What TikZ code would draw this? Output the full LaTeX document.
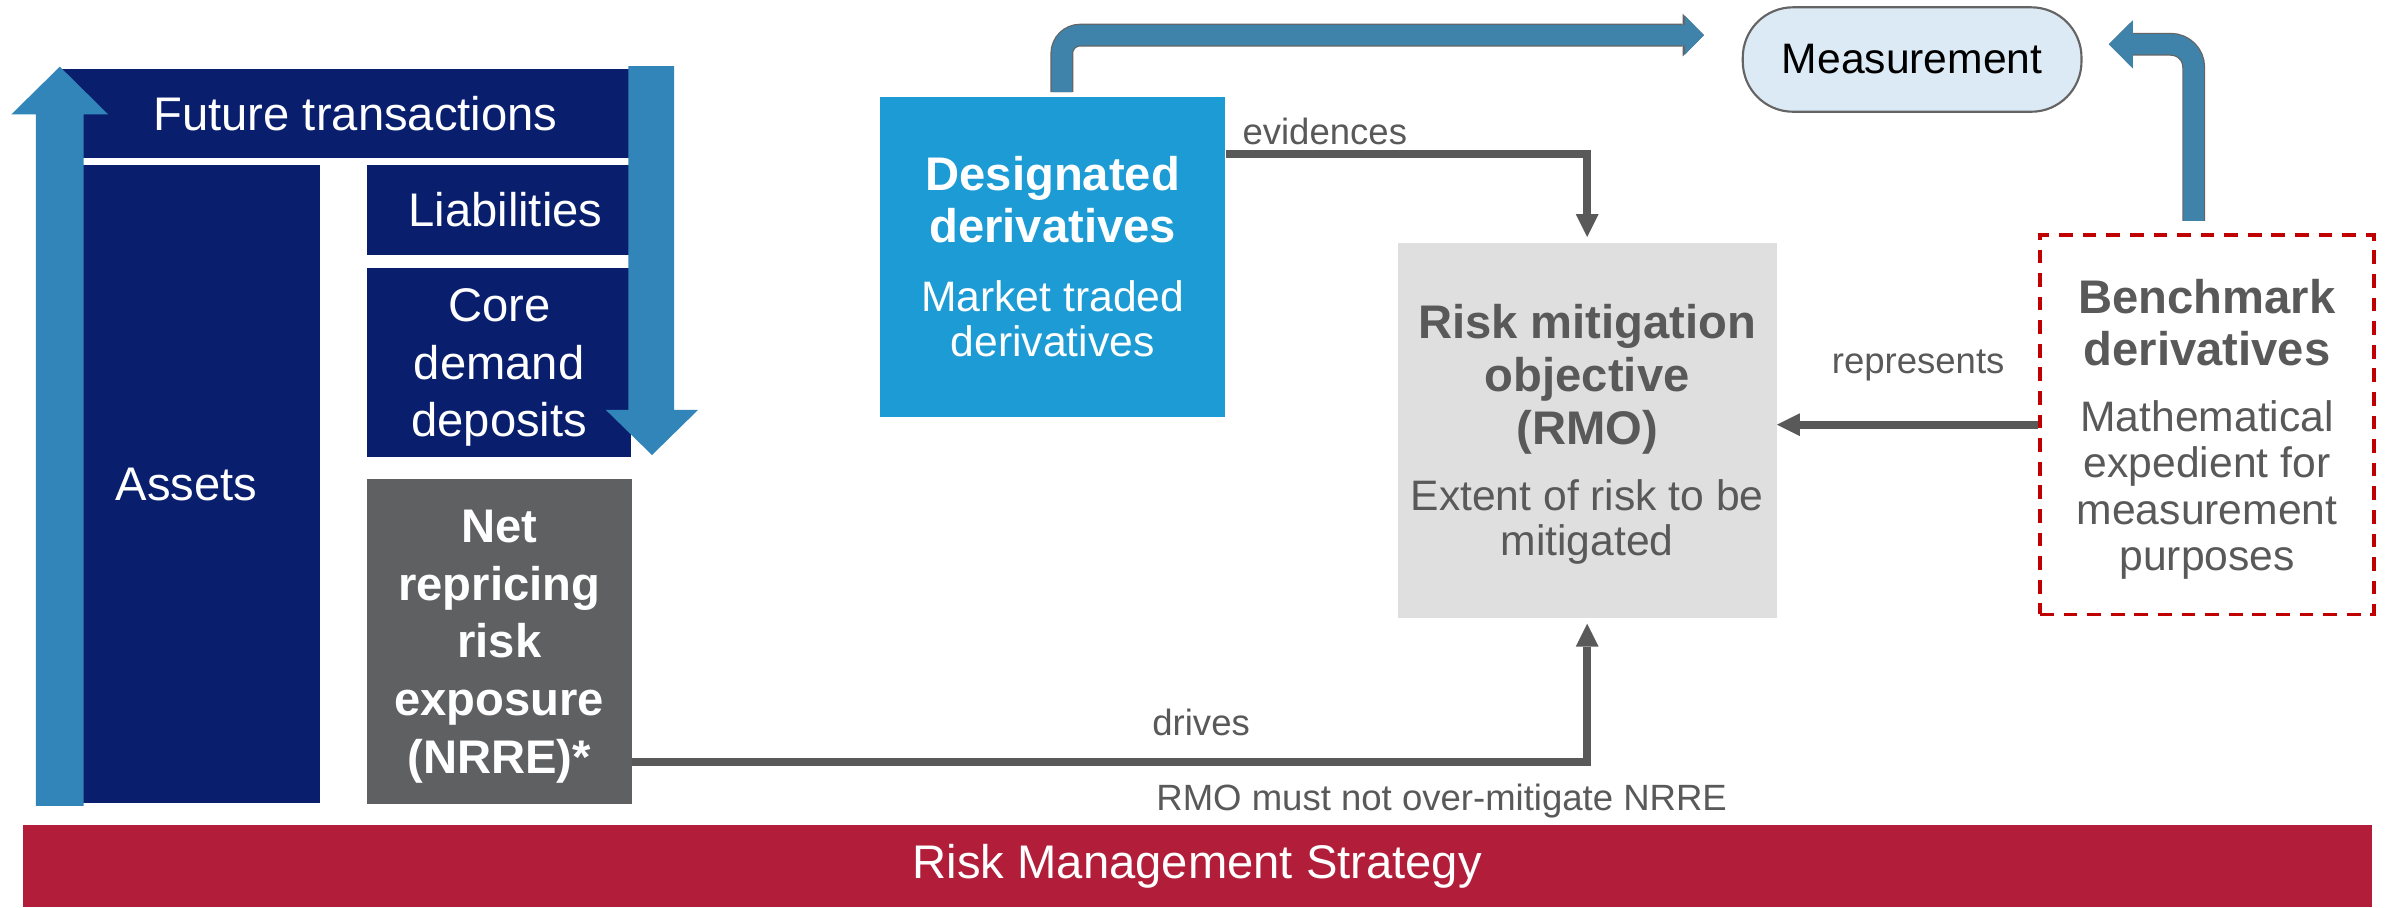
\documentclass[tikz,border=0pt]{standalone}
\usepackage{fontspec}
\setmainfont{Liberation Sans}
\usetikzlibrary{arrows.meta}

\definecolor{navy}{RGB}{9,31,110}
\definecolor{ablue}{RGB}{50,133,185}
\definecolor{dblue}{RGB}{29,155,213}
\definecolor{mblue}{RGB}{64,131,170}
\definecolor{mline}{RGB}{100,100,100}
\definecolor{nrreg}{RGB}{95,96,98}
\definecolor{rmog}{RGB}{223,223,223}
\definecolor{txtg}{RGB}{89,89,89}
\definecolor{dred}{RGB}{192,0,0}
\definecolor{rmsred}{RGB}{178,30,58}
\definecolor{measfill}{RGB}{220,234,245}

\newcommand\bigtxt{\fontsize{31}{37.8}\selectfont}
\newcommand\subtxt{\fontsize{28}{30}\selectfont\mdseries}

\begin{document}
\begin{tikzpicture}[x=1pt, y=-1pt]
    \tikzset{
        nbox/.style={rectangle, fill=navy, text=white, inner sep=0pt, align=center, font=\bigtxt},
        tbox/.style={rectangle, inner sep=0pt, align=center, font=\fontsize{31}{34}\selectfont},
        garrow/.style={draw=txtg, line width=5pt, -{Triangle[length=15pt, width=15pt, line width=0pt]}},
        marrow/.style={draw=mblue, line width=13.4pt,
            preaction={draw=mline, line width=15pt, -{Triangle[length=14pt, width=28pt, line width=0pt]}},
            -{Triangle[length=12.5pt, width=25.6pt, line width=0pt]}},
        lbl/.style={inner sep=0pt, text=txtg, font=\fontsize{24}{28}\selectfont}
    }
    \fill[white] (0,0) rectangle (1568,596);
    \useasboundingbox (0,0) rectangle (1568,596);

    % Баланс: сделки, активы, пассивы
    \node[nbox, minimum width=389, minimum height=58.7] (fut)    at (233.5, 74.65) {Future transactions};
    \node[nbox, minimum width=175, minimum height=419.4] (assets) at (122.5, 318.1) {Assets};
    \node[nbox, minimum width=182, minimum height=59.1] (liab)   at (332, 137.95)  {Liabilities};
    \node[nbox, minimum width=173.8, minimum height=123.7, text depth=0pt] (core) at (327.9, 238.15) {Core\\demand\\deposits};
    \node[nbox, fill=nrreg, minimum width=174, minimum height=213.7, text depth=0pt, font=\bigtxt\bfseries] (nrre) at (328, 421.55)
        {Net\\repricing\\risk\\exposure\\(NRRE)*};

    % Широкие стрелки
    \fill[ablue] (23.5,529.3) -- (23.5,75.1) -- (7.5,75.1) -- (39.3,43.8) -- (71,75.1) -- (55,75.1) -- (55,529.3) -- cycle;
    \fill[ablue] (412.7,43.4) -- (412.7,269.3) -- (398,269.3) -- (428.3,298.9) -- (458.5,269.3) -- (442.8,269.3) -- (442.8,43.4) -- cycle;

    % Производные и цель
    \node[tbox, fill=dblue, text=white, minimum width=227, minimum height=210.5] (desig) at (691.5, 168.75)
        {\bfseries Designated\\\bfseries derivatives\\[11pt]\subtxt Market traded\\[-4pt]\subtxt derivatives};
    \node[rectangle, rounded corners=33pt, draw=mline, line width=1.4pt, fill=measfill,
          minimum width=222.5, minimum height=68.6, font=\fontsize{28}{30}\selectfont] (meas) at (1256.05, 39.1) {Measurement};
    \node[tbox, fill=rmog, text=txtg, minimum width=249, minimum height=246.4, text depth=0pt, font=\fontsize{31}{34.5}\selectfont] (rmo) at (1042.6, 282.6)
        {\bfseries Risk mitigation\\\bfseries objective\\\bfseries (RMO)\\[9.2pt]\subtxt Extent of risk to be\\[-4.9pt]\subtxt mitigated};
    \node[tbox, draw=dred, line width=2.4pt, dash pattern=on 9pt off 6.5pt, text=txtg, text depth=0pt,
          minimum width=219.4, minimum height=249.2] (bench) at (1449.8, 279)
        {\bfseries Benchmark\\\bfseries derivatives\\[9.8pt]\subtxt Mathematical\\[-3.7pt]\subtxt expedient for\\[-3.7pt]\subtxt measurement\\[-3.7pt]\subtxt purposes};
    \node[rectangle, fill=rmsred, text=white, inner sep=0pt, minimum width=1543, minimum height=54, font=\bigtxt] (rms) at (786.5, 569)
        {Risk Management Strategy};

    % Связи
    \draw[garrow, shorten >=3.5pt] ([yshift=-38pt]desig.north east) -| (rmo.north);
    \draw[garrow] (bench.west) -- (rmo.east |- bench.west);
    \draw[garrow, shorten >=3.7pt] ([yshift=28pt]nrre.south east) -| (rmo.south);
    \draw[marrow, rounded corners=12pt, shorten <=2.8pt, shorten >=24.8pt] ([xshift=6pt]desig.north) |- ([yshift=16pt]meas.west);
    \draw[marrow, rounded corners=15pt, shorten <=8.1pt, shorten >=17.3pt,
          -{Triangle[length=15.8pt, width=31.8pt, line width=0pt]},
          preaction={-{Triangle[length=17.3pt, width=34pt, line width=0pt]}}] ([xshift=-8.8pt]bench.north) |- ([yshift=10pt]meas.east);

    \node[lbl, anchor=base west] (evid) at (816, 95.2)   {evidences};
    \node[lbl, anchor=base]      (repr) at (1260, 245.3) {represents};
    \node[lbl, anchor=base]      (drv)  at (789, 483)    {drives};
    \node[lbl, anchor=base]      (must) at (947, 532.2)  {RMO must not over-mitigate NRRE};
\end{tikzpicture}
\end{document}
